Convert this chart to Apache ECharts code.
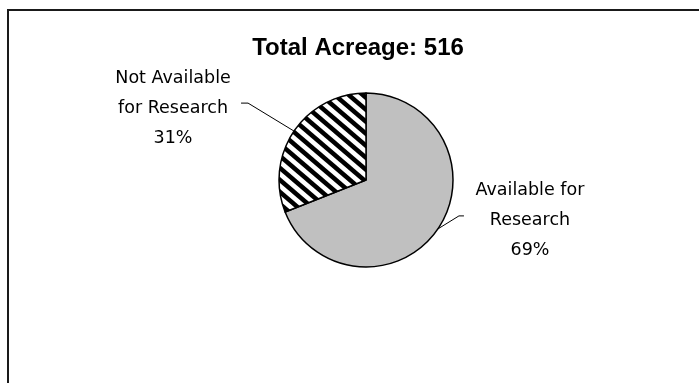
<!DOCTYPE html>
<html>
<head>
<meta charset="utf-8">
<script src="https://cdn.jsdelivr.net/npm/echarts@6/dist/echarts.min.js"></script>
<style>
  html, body { margin: 0; padding: 0; background: #fff; }
  #chart { width: 699px; height: 383px; }
</style>
</head>
<body>
<div id="chart"></div>
<script>
// Land split of the site, in percent of the total acreage
const titleText = 'Total Acreage: 516';
const categories = ['Available for\nResearch', 'Not Available\nfor Research'];
const shares = [69, 31];

// Diagonal hatch tile (down-right stripes) for the "not available" slice
function hatchTile(w, h, lineW) {
  const c = document.createElement('canvas');
  c.width = w; c.height = h;
  const g = c.getContext('2d');
  g.fillStyle = '#fff';
  g.fillRect(0, 0, w, h);
  g.strokeStyle = '#000';
  g.lineWidth = lineW;
  for (const o of [-w, 0, w]) {
    g.beginPath();
    g.moveTo(o - w, -h);
    g.lineTo(o + 2 * w, 2 * h);
    g.stroke();
  }
  return c;
}

const fills = [
  '#c0c0c0',
  { image: hatchTile(14, 12, 4.5), repeat: 'repeat' }
];

const chart = echarts.init(document.getElementById('chart'), null, { renderer: 'canvas' });

const labelFont = 'DejaVu Sans';
const labelSize = 17.5;

chart.setOption({
  animation: false,
  backgroundColor: '#fff',
  graphic: [{
    type: 'rect',
    shape: { x: 8, y: 10, width: 760, height: 420 },
    style: { fill: 'none', stroke: '#1a1a1a', lineWidth: 2 },
    silent: true,
    z: 10
  }],
  title: {
    text: titleText,
    left: 353,
    top: 31,
    textAlign: 'center',
    textStyle: {
      fontFamily: 'Liberation Sans',
      fontWeight: 'bold',
      fontSize: 24,
      color: '#000'
    }
  },
  series: [{
    type: 'pie',
    center: [366, 180],
    radius: 87,
    startAngle: 90,
    clockwise: true,
    percentPrecision: 0,
    data: categories.map((name, i) => ({
      name: name,
      value: shares[i],
      itemStyle: { color: fills[i] }
    })),
    itemStyle: { borderColor: '#000', borderWidth: 1.5 },
    label: {
      show: true,
      position: 'outside',
      overflow: 'none',
      color: '#000',
      fontFamily: labelFont,
      fontSize: labelSize,
      formatter: function (p) {
        const lines = p.name.split('\n').concat([p.percent + '%']);
        return lines.map(l => '{c|' + l + '}').join('\n');
      },
      rich: {
        c: {
          width: 128,
          align: 'center',
          lineHeight: 30,
          fontFamily: labelFont,
          fontSize: labelSize,
          color: '#000'
        }
      }
    },
    labelLine: {
      show: true,
      length: 40,
      length2: 7,
      smooth: false,
      lineStyle: { color: '#000', width: 1 }
    },
    labelLayout: function (params) {
      const pts = params.labelLinePoints;
      if (!pts) return {};
      const s = pts[0];
      if (params.dataIndex === 0) {
        const mid = [s[0] + 21, s[1] - 13];
        const end = [mid[0] + 5, mid[1]];
        return {
          x: end[0] + 2, y: end[1] + 5,
          align: 'left', verticalAlign: 'middle',
          labelLinePoints: [s, mid, end]
        };
      }
      const mid = [s[0] - 46, s[1] - 28];
      const end = [mid[0] - 7, mid[1]];
      return {
        x: end[0] - 4, y: end[1] + 5,
        align: 'right', verticalAlign: 'middle',
        labelLinePoints: [s, mid, end]
      };
    }
  }]
});
</script>
</body>
</html>
